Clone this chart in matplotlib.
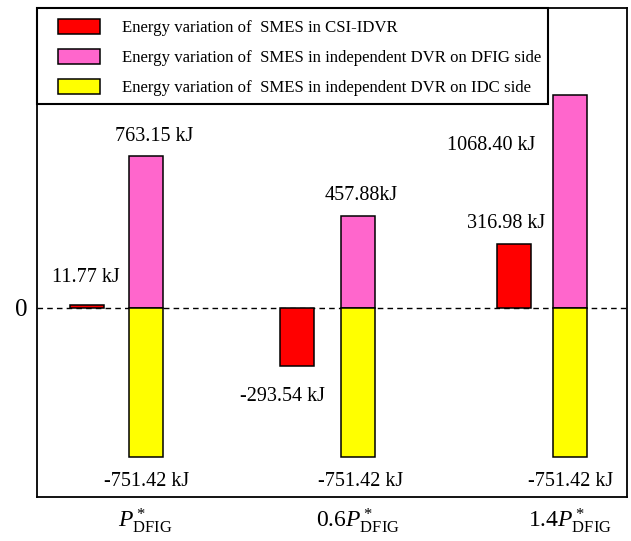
import matplotlib
matplotlib.use("Agg")
import matplotlib.pyplot as plt
from matplotlib.patches import Patch, Rectangle

plt.rcParams["font.family"] = ["Liberation Serif", "DejaVu Serif"]
plt.rcParams["mathtext.fontset"] = "custom"
plt.rcParams["mathtext.rm"] = "Liberation Serif"
plt.rcParams["mathtext.it"] = "Liberation Serif:italic"

# energy variation of the SMES units (kJ) for each DFIG power level
cases = [r"$P^*_{\rm DFIG}$", r"$0.6P^*_{\rm DFIG}$", r"$1.4P^*_{\rm DFIG}$"]
csi_idvr = [11.77, -293.54, 316.98]
dvr_dfig = [763.15, 457.88, 1068.40]
dvr_idc = [-751.42, -751.42, -751.42]
series_names = [
    "Energy variation of  SMES in CSI-IDVR",
    "Energy variation of  SMES in independent DVR on DFIG side",
    "Energy variation of  SMES in independent DVR on IDC side",
]
unit_sep = {"csi": [" ", " ", " "], "dfig": [" ", "", " "], "idc": [" ", " ", " "]}

RED, PINK, YELLOW = "#ff0000", "#ff66cc", "#ffff00"

fig = plt.figure(figsize=(6.31, 5.41), dpi=100)
W, H = 631, 541
ax_l, ax_r, ax_t, ax_b = 37.3, 627.0, 8.0, 496.7
ax = fig.add_axes([ax_l / W, 1 - ax_b / H, (ax_r - ax_l) / W, (ax_b - ax_t) / H])

x = list(range(len(cases)))
red_shift = [-0.278, -0.288, -0.265]
x_red = [i + s for i, s in zip(x, red_shift)]
bw = 0.16
bar_kw = dict(width=bw, edgecolor="black", linewidth=1.1, zorder=3)

ax.bar(x_red, csi_idvr, color=RED, **bar_kw)
ax.bar(x, dvr_dfig, color=PINK, **bar_kw)
ax.bar(x, dvr_idc, color=YELLOW, **bar_kw)

ax.axhline(0, color="black", linestyle=(0, (4, 3)), linewidth=1.0, zorder=2)

ax.set_xlim(-0.511, 2.27)
ax.set_ylim(-950, 1505)


def label(xv, yv, text, dx, dy):
    ax.annotate(text, (xv, yv), xytext=(dx, dy), textcoords="offset pixels",
                ha="center", va="center", fontsize=14.5)


red_off = [(-1, 28), (-14, -30), (-7, 21)]
pink_off = [(8, 19), (3, 21), (-79, -51)]
yellow_off = [(1, -24), (3, -24), (1, -24)]
for i in x:
    label(x_red[i], csi_idvr[i], f"{csi_idvr[i]:.2f}{unit_sep['csi'][i]}kJ", *red_off[i])
    label(x[i], dvr_dfig[i], f"{dvr_dfig[i]:.2f}{unit_sep['dfig'][i]}kJ", *pink_off[i])
    label(x[i], dvr_idc[i], f"{dvr_idc[i]:.2f}{unit_sep['idc'][i]}kJ", *yellow_off[i])

ax.set_xticks(x)
ax.set_xticklabels(cases, fontsize=17)
ax.set_yticks([0])
ax.set_yticklabels(["0"], fontsize=18)
ax.tick_params(axis="both", length=0)
ax.tick_params(axis="x", pad=7)
ax.tick_params(axis="y", pad=7)
for s in ax.spines.values():
    s.set_linewidth(1.3)

# legend box sits in the top-left corner of the axes
handles = [Patch(facecolor=c, edgecolor="black", linewidth=1.1) for c in (RED, PINK, YELLOW)]
leg_left = (58 - ax_l) / (ax_r - ax_l)
leg_top = (ax_b - 19.0) / (ax_b - ax_t)
ax.legend(handles, series_names, loc="upper left", bbox_to_anchor=(leg_left, leg_top),
          frameon=False, borderpad=0, borderaxespad=0, fontsize=12.1,
          handlelength=2.5, handleheight=1.01, handletextpad=1.3, labelspacing=0.75)
frame_bottom = (ax_b - 103.8) / (ax_b - ax_t)
frame_w = (547.5 - ax_l) / (ax_r - ax_l)
ax.add_patch(Rectangle((0, frame_bottom), frame_w, 1 - frame_bottom, transform=ax.transAxes,
                       fill=False, edgecolor="black", linewidth=1.5, clip_on=False, zorder=6))

fig.savefig("out.png", dpi=100)
